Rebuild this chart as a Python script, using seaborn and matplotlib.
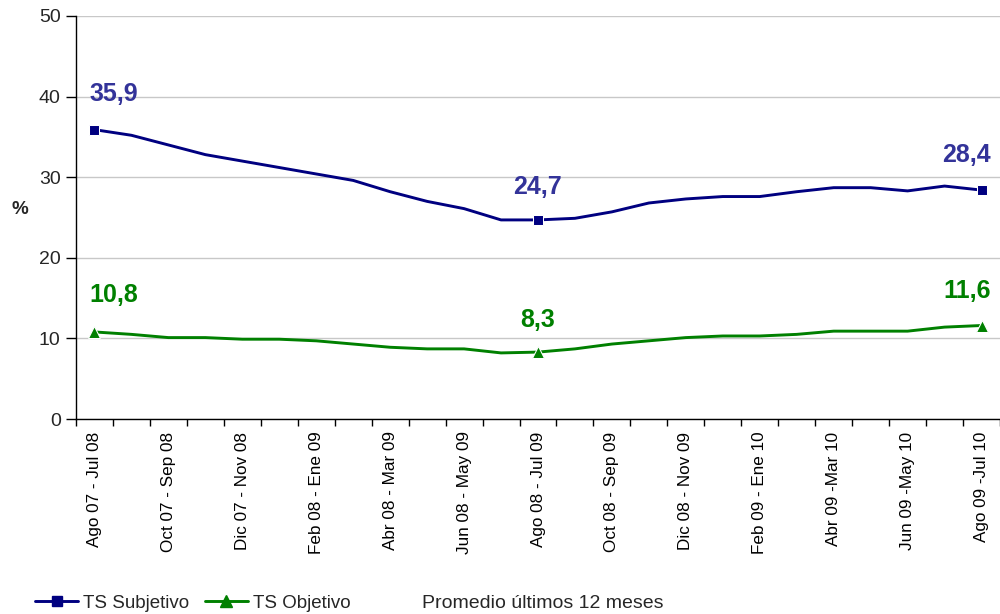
import matplotlib
matplotlib.use("Agg")
import matplotlib.pyplot as plt
from matplotlib.lines import Line2D
import seaborn as sns

# Data (12-month rolling averages, %)
periods = [
    "Ago 07 - Jul 08", "Sep 07 - Ago 08", "Oct 07 - Sep 08", "Nov 07 - Oct 08",
    "Dic 07 - Nov 08", "Ene 08 - Dic 08", "Feb 08 - Ene 09", "Mar 08 - Feb 09",
    "Abr 08 - Mar 09", "May 08 - Abr 09", "Jun 08 - May 09", "Jul 08 - Jun 09",
    "Ago 08 - Jul 09", "Sep 08 - Ago 09", "Oct 08 - Sep 09", "Nov 08 - Oct 09",
    "Dic 08 - Nov 09", "Ene 09 - Dic 09", "Feb 09 - Ene 10", "Mar 09 - Feb 10",
    "Abr 09 -Mar 10", "May 09 - Abr 10", "Jun 09 -May 10", "Jul 09 - Jun 10",
    "Ago 09 -Jul 10",
]
ts_subjetivo = [35.9, 35.2, 34.0, 32.8, 32.0, 31.2, 30.4, 29.6, 28.2, 27.0, 26.1, 24.7,
                24.7, 24.9, 25.7, 26.8, 27.3, 27.6, 27.6, 28.2, 28.7, 28.7, 28.3, 28.9, 28.4]
ts_objetivo = [10.8, 10.5, 10.1, 10.1, 9.9, 9.9, 9.7, 9.3, 8.9, 8.7, 8.7, 8.2,
               8.3, 8.7, 9.3, 9.7, 10.1, 10.3, 10.3, 10.5, 10.9, 10.9, 10.9, 11.4, 11.6]
labelled_points = [0, 12, 24]
series_names = ["TS Subjetivo", "TS Objetivo"]

sns.set_theme(style="white")
plt.rcParams["font.family"] = ["Liberation Sans", "DejaVu Sans"]

BLUE_LINE, BLUE_TEXT = "#000080", "#333399"
GREEN = "#008000"

fig = plt.figure(figsize=(10, 6.14), dpi=100)
ax = fig.add_axes([0.076, 1 - 419 / 614, 0.924, 403 / 614])

idx = list(range(len(periods)))
sns.lineplot(x=idx, y=ts_subjetivo, color=BLUE_LINE, linewidth=2.1, marker="s",
             markersize=6.8, markevery=labelled_points, ax=ax)
sns.lineplot(x=idx, y=ts_objetivo, color=GREEN, linewidth=2.1, marker="^",
             markersize=8, markevery=labelled_points, ax=ax)

# value labels above the marked points
aligns = ["left", "center", "right"]
dx = [-5, 0, 9]
dy_sub = [29, 26, 28]
dy_obj = [30, 25, 28]
for k, i in enumerate(labelled_points):
    ax.annotate(f"{ts_subjetivo[i]:.1f}".replace(".", ","), (i, ts_subjetivo[i]),
                xytext=(dx[k], dy_sub[k]), textcoords="offset pixels",
                ha=aligns[k], va="baseline", fontsize=18, fontweight="bold", color=BLUE_TEXT)
    ax.annotate(f"{ts_objetivo[i]:.1f}".replace(".", ","), (i, ts_objetivo[i]),
                xytext=(dx[k], dy_obj[k]), textcoords="offset pixels",
                ha=aligns[k], va="baseline", fontsize=18, fontweight="bold", color=GREEN)

# axes
ax.set_ylim(0, 50)
ax.set_yticks(range(0, 51, 10))
ax.set_xlim(-0.5, 24.34)
ax.set_xticks(idx[::2])
ax.set_xticklabels(periods[::2], rotation=90, fontsize=12.3)
ax.set_xticks([i - 0.5 for i in range(len(periods) + 1)], minor=True)
ax.tick_params(axis="x", which="major", length=0, pad=9, colors="black")
ax.tick_params(axis="x", which="minor", length=5, width=1, color="black", bottom=True)
ax.tick_params(axis="y", length=7, width=1, color="black", labelsize=14, pad=4, left=True)
ax.yaxis.grid(True, color="#c8c8c8", linewidth=1)
ax.set_axisbelow(True)
for side in ["top", "right"]:
    ax.spines[side].set_visible(False)
for side in ["left", "bottom"]:
    ax.spines[side].set_color("black")
    ax.spines[side].set_linewidth(1)
ax.set_xlabel("")
ax.set_ylabel("")
fig.text(0.020, 1 - 210 / 614, "%", fontsize=13.5, fontweight="bold", ha="center", va="center")

# legend and footnote
handles = [
    Line2D([], [], color=BLUE_LINE, linewidth=2.1, marker="s", markersize=6.8),
    Line2D([], [], color=GREEN, linewidth=2.1, marker="^", markersize=8),
]
fig.legend(handles, series_names, loc="center left", bbox_to_anchor=(0.035, 1 - 603 / 614),
           ncol=2, frameon=False, fontsize=13.5, handlelength=2.3, handletextpad=0.25,
           columnspacing=0.85, borderpad=0, borderaxespad=0)
fig.text(0.422, 1 - 603 / 614, "Promedio últimos 12 meses", fontsize=14,
         ha="left", va="center")

fig.savefig("out.png", dpi=100)
